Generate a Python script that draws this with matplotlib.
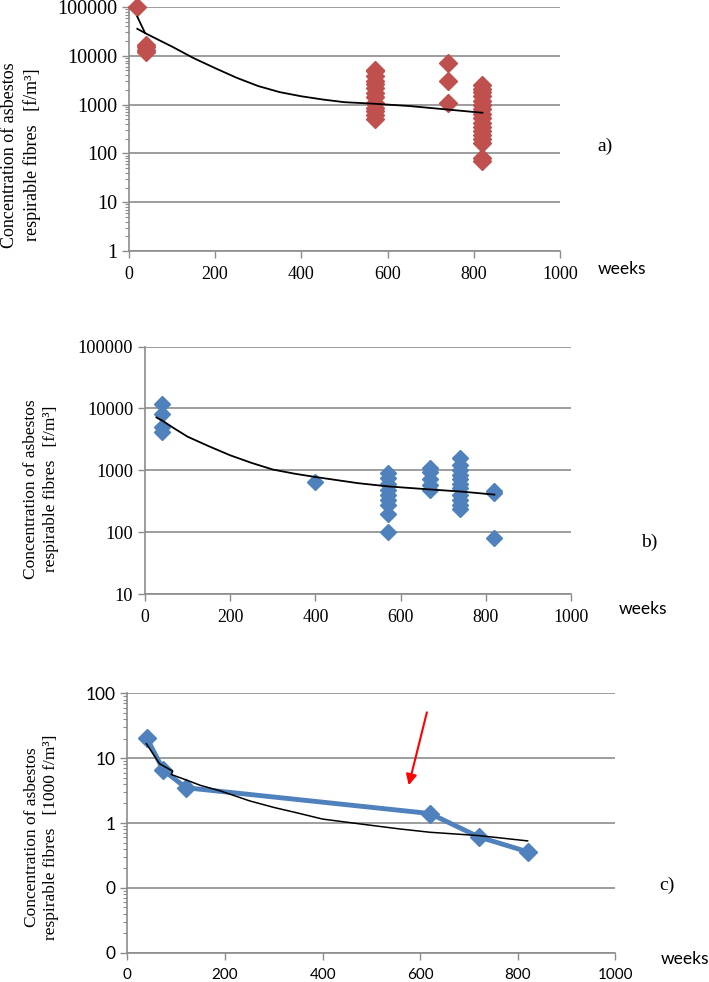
import matplotlib
matplotlib.use("Agg")
import matplotlib.pyplot as plt
from matplotlib.ticker import LogLocator, NullLocator, NullFormatter

# panel a) measurements (weeks, f/m3)
a_weeks = [20, 40, 40, 40, 40] + [570] * 13 + [740] * 3 + [820] * 17
a_conc = [100000, 17000, 15000, 13000, 12000,
          5000, 4800, 3800, 3000, 2600, 2200, 1700, 1400, 1100, 850, 730, 620, 500,
          7000, 3000, 1100,
          2500, 2100, 1800, 1500, 1200, 1000, 800, 650, 520, 420, 350, 290, 240, 200, 165, 80, 70]
a_trend_weeks = [20, 38, 70, 100, 150, 200, 250, 300, 350, 400, 450, 500, 570, 650, 740, 820]
a_trend_conc = [35700, 29200, 21000, 15500, 9000, 5600, 3550, 2400, 1800, 1480, 1270,
                1120, 1040, 935, 790, 680]
a_kink_weeks = [20, 38]
a_kink_conc = [63000, 29200]

# panel b)
b_weeks = [40] * 4 + [400] + [570] * 9 + [670] * 5 + [740] * 11 + [820] * 3
b_conc = [12000, 8000, 5000, 4200,
          650,
          900, 760, 610, 480, 400, 330, 270, 200, 100,
          1100, 940, 730, 570, 480,
          1600, 1200, 1000, 830, 730, 610, 510, 400, 330, 270, 240,
          460, 430, 80]
b_trend_weeks = [27, 40, 70, 100, 150, 200, 250, 300, 350, 400, 500, 570, 670, 740, 820]
b_trend_conc = [7150, 6400, 4700, 3500, 2450, 1750, 1320, 1030, 885, 780, 620, 550, 490, 455, 405]

# panel c) (1000 f/m3)
c_weeks = [40, 74, 120, 620, 720, 820]
c_conc = [20.3, 6.5, 3.5, 1.4, 0.61, 0.36]
c_trend_weeks = [39, 66, 93, 90, 121, 150, 189, 230, 250, 300, 350, 400, 476, 558, 620, 720, 820]
c_trend_conc = [16.7, 8.2, 6.3, 5.6, 4.6, 3.8, 3.15, 2.48, 2.2, 1.74, 1.42, 1.15, 0.97, 0.81,
                0.72, 0.64, 0.53]

x_ticks = [0, 200, 400, 600, 800, 1000]

red = "#C0504D"
blue = "#4F81BD"
grey = "#8c8c8c"
serif = "Liberation Serif"
sans = "Lato"

plt.rcParams["font.family"] = [serif, "DejaVu Serif"]

fig = plt.figure(figsize=(7.09, 9.82), dpi=100)


def style_axes(ax, ylim, yticks, ylabels, yfont, ysize, xfont, xsize, minor):
    ax.set_yscale("log")
    ax.set_xlim(0, 1000)
    ax.set_ylim(*ylim)
    ax.set_xticks(x_ticks, [str(t) for t in x_ticks])
    ax.set_yticks(yticks, ylabels)
    ax.tick_params(axis="x", labelfontfamily=xfont, labelsize=xsize, pad=6)
    ax.tick_params(axis="y", labelfontfamily=yfont, labelsize=ysize)
    if minor:
        ax.yaxis.set_minor_locator(LogLocator(base=10, subs=range(2, 10)))
    else:
        ax.yaxis.set_minor_locator(NullLocator())
    ax.yaxis.set_minor_formatter(NullFormatter())
    ax.xaxis.set_minor_locator(NullLocator())
    for s in ["top", "right"]:
        ax.spines[s].set_visible(False)
    for s in ["left", "bottom"]:
        ax.spines[s].set_color(grey)
        ax.spines[s].set_linewidth(1.2)
    ax.tick_params(axis="both", which="major", color=grey, length=5, width=1)
    ax.tick_params(axis="y", which="minor", color=grey, length=3, width=0.8)
    ax.yaxis.grid(True, which="major", color=grey, lw=1.2)
    ax.set_axisbelow(True)


# ---- a)
ax1 = fig.add_axes([0.1815, 0.7444, 0.6085, 0.2485])
style_axes(ax1, (1, 100000), [1, 10, 100, 1000, 10000, 100000],
           ["1", "10", "100", "1000", "10000", "100000"], serif, 14.5, serif, 13, True)
ax1.plot(a_weeks, a_conc, "D", color=red, ms=9, ls="none", clip_on=False, zorder=3)
ax1.plot(a_trend_weeks, a_trend_conc, color="black", lw=1.3, zorder=4)
ax1.plot(a_kink_weeks, a_kink_conc, color="black", lw=1.3, zorder=4)

# ---- b)
ax2 = fig.add_axes([0.2045, 0.3951, 0.6009, 0.2519])
style_axes(ax2, (10, 100000), [10, 100, 1000, 10000, 100000],
           ["10", "100", "1000", "10000", "100000"], serif, 13.2, serif, 12.8, False)
ax2.plot(b_weeks, b_conc, "D", color=blue, ms=8.5, ls="none", zorder=3)
ax2.plot(b_trend_weeks, b_trend_conc, color="black", lw=1.3, zorder=4)

# ---- c)
ax3 = fig.add_axes([0.1796, 0.0298, 0.6885, 0.2642])
style_axes(ax3, (0.01, 100), [0.01, 0.1, 1, 10, 100],
           ["0", "0", "1", "10", "100"], sans, 12.5, sans, 11, True)
ax3.plot(c_weeks, c_conc, "-D", color=blue, ms=9, lw=3.5, zorder=3)
ax3.plot(c_trend_weeks, c_trend_conc, color="black", lw=1.1, zorder=4)
ax3.annotate("", xy=(575, 3.47), xytext=(615, 56),
             arrowprops=dict(arrowstyle="-|>", color="red", lw=1.5, mutation_scale=16))

# axis titles and panel letters
ylab = "Concentration of asbestos\nrespirable fibres   [f/m³]"
ylab_c = "Concentration of asbestos\nrespirable fibres   [1000 f/m³]"
fig.text(0.0296, 0.842, ylab, rotation=90, ha="center", va="center",
         multialignment="center", fontfamily=serif, fontsize=13, linespacing=1.3)
fig.text(0.058, 0.502, ylab, rotation=90, ha="center", va="center",
         multialignment="center", fontfamily=serif, fontsize=12.5, linespacing=1.3)
fig.text(0.0585, 0.147, ylab_c, rotation=90, ha="center", va="center",
         multialignment="center", fontfamily=serif, fontsize=12.5, linespacing=1.3)

fig.text(622 / 709, 1 - 269 / 982, "weeks", ha="center", va="center", fontfamily=sans, fontsize=12.5)
fig.text(643 / 709, 1 - 609 / 982, "weeks", ha="center", va="center", fontfamily=sans, fontsize=12.5)
fig.text(685 / 709, 1 - 959 / 982, "weeks", ha="center", va="center", fontfamily=sans, fontsize=12.5)

fig.text(605 / 709, 1 - 146 / 982, "a)", ha="center", va="center", fontfamily=serif, fontsize=14)
fig.text(649 / 709, 1 - 542 / 982, "b)", ha="center", va="center", fontfamily=serif, fontsize=14)
fig.text(667 / 709, 1 - 885 / 982, "c)", ha="center", va="center", fontfamily=serif, fontsize=14)

fig.savefig("out.png", dpi=100)
